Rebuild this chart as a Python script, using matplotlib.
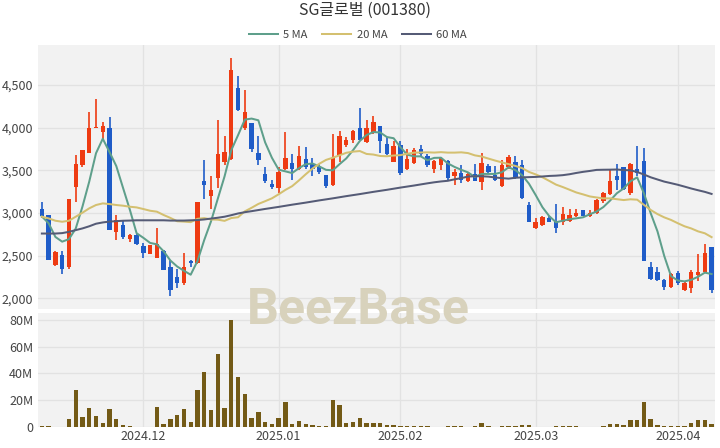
import numpy as np
import pandas as pd
import matplotlib
matplotlib.use("Agg")
import matplotlib.pyplot as plt
from matplotlib.ticker import FuncFormatter

plt.rcParams['font.family'] = ['Noto Sans CJK KR', 'DejaVu Sans']

# trading days (KRX holidays removed)
holidays = ["2024-12-25", "2024-12-31", "2025-01-01", "2025-01-27",
            "2025-01-28", "2025-01-29", "2025-01-30"]
dates = pd.bdate_range("2024-11-11", "2025-04-08")
dates = dates[~dates.isin(pd.to_datetime(holidays))]

opens = [3050, 2975, 2390, 2510, 2370, 3310, 3560, 3700, 3990, 3950,
         4000, 2780, 2860, 2700, 2740, 2610, 2520, 2470, 2560, 2370,
         2250, 2180, 2440, 2410, 3370, 3200, 3410, 3600, 3630, 4460,
         4000, 4050, 3700, 3460, 3340, 3290, 3520, 3590, 3520, 3630,
         3580, 3540, 3440, 3330, 3680, 3800, 3860, 4000, 3830, 3950,
         4020, 3810, 3600, 3800, 3520, 3590, 3750, 3670, 3510, 3560,
         3610, 3430, 3470, 3370, 3460, 3360, 3550, 3440, 3320, 3540,
         3600, 3560, 3090, 2820, 2860, 2940, 2900, 2890, 2910, 2960,
         3030, 2960, 3000, 3140, 3220, 3430, 3540, 3230, 3520, 3610,
         2370, 2310, 2220, 2130, 2300, 2100, 2120, 2280, 2310, 2600]
highs = [3130, 2980, 2550, 2550, 3170, 3680, 3740, 4180, 4340, 4070,
         4130, 2980, 2910, 2760, 2760, 2650, 2630, 2830, 2570, 2450,
         2350, 2530, 2450, 3130, 3620, 3430, 4090, 3900, 4810, 4600,
         4440, 4060, 3900, 3540, 3390, 3540, 3950, 3690, 3780, 3770,
         3650, 3570, 3450, 3930, 3960, 3890, 3970, 4230, 4090, 4140,
         4020, 3890, 3840, 3840, 3750, 3760, 3800, 3690, 3620, 3650,
         3620, 3520, 3560, 3470, 3570, 3700, 3580, 3550, 3620, 3680,
         3670, 3620, 3130, 2940, 2960, 2960, 3110, 3070, 3050, 3050,
         3040, 3030, 3160, 3250, 3510, 3570, 3540, 3590, 3790, 3760,
         2430, 2370, 2230, 2300, 2320, 2210, 2330, 2520, 2640, 2600]
lows = [2940, 2450, 2380, 2290, 2350, 3130, 3540, 3700, 3990, 3870,
        2800, 2680, 2700, 2660, 2620, 2470, 2520, 2470, 2330, 2030,
        2120, 2160, 2370, 2400, 3170, 3050, 3290, 3560, 3620, 4190,
        3970, 3710, 3560, 3350, 3280, 3240, 3500, 3390, 3500, 3520,
        3430, 3460, 3290, 3320, 3600, 3770, 3820, 3860, 3820, 3930,
        3700, 3680, 3600, 3440, 3500, 3580, 3660, 3540, 3470, 3500,
        3390, 3330, 3350, 3360, 3370, 3270, 3460, 3380, 3300, 3520,
        3400, 3170, 2890, 2810, 2850, 2890, 2770, 2860, 2890, 2950,
        2960, 2950, 2990, 3120, 3210, 3270, 3270, 3210, 3430, 2440,
        2220, 2200, 2100, 2120, 2160, 2090, 2060, 2210, 2300, 2060]
closes = [2960, 2450, 2540, 2350, 3170, 3580, 3740, 4000, 4010, 4020,
          2800, 2920, 2720, 2740, 2640, 2530, 2620, 2640, 2330, 2100,
          2180, 2370, 2410, 3130, 3330, 3270, 3690, 3720, 4670, 4210,
          4180, 3750, 3620, 3380, 3310, 3480, 3650, 3520, 3670, 3540,
          3520, 3480, 3320, 3640, 3900, 3860, 3960, 3860, 3990, 4070,
          3840, 3690, 3790, 3470, 3630, 3740, 3690, 3560, 3610, 3640,
          3410, 3480, 3390, 3460, 3370, 3590, 3480, 3390, 3560, 3660,
          3420, 3180, 2900, 2890, 2950, 2900, 2820, 2990, 2980, 3000,
          2960, 3000, 3150, 3240, 3380, 3390, 3280, 3570, 3470, 2440,
          2230, 2220, 2130, 2290, 2180, 2180, 2310, 2310, 2530, 2100]
volumes = [0.5, 1.0, 0.3, 0.3, 6.3, 27.5, 7.5, 14.0, 8.0, 3.3,
           13.3, 5.8, 1.5, 0.5, 0.3, 0.3, 0.2, 15.0, 2.5, 6.3,
           9.0, 13.3, 3.8, 27.8, 41.3, 12.5, 54.5, 14.0, 80.0, 37.5,
           24.3, 7.0, 11.3, 3.8, 2.5, 7.0, 18.8, 2.5, 4.5, 2.5,
           1.3, 0.8, 0.8, 20.3, 16.3, 3.0, 4.0, 7.0, 3.3, 2.8,
           2.8, 1.3, 1.3, 0.8, 0.8, 0.5, 0.5, 0.5, 0.3, 0.3,
           0.5, 0.5, 0.5, 0.3, 0.5, 3.3, 0.5, 0.3, 0.8, 0.8,
           0.8, 1.3, 1.3, 0.3, 0.2, 0.2, 0.8, 0.8, 0.5, 0.5,
           0.3, 0.3, 0.3, 0.8, 2.5, 2.5, 1.3, 5.0, 5.5, 18.3,
           6.3, 1.5, 0.5, 0.5, 0.5, 0.5, 3.0, 5.0, 5.5, 2.5]  # millions

# moving averages before the window is full
ma5_head = [2960, 2880, 2720, 2665]
ma20_head = [2957, 2937, 2910, 2898, 2910, 2957, 3004, 3055, 3094, 3113,
             3105, 3094, 3086, 3074, 3066, 3047, 3027, 3016, 2977]
ma60_head = [2760, 2760, 2760, 2765, 2780, 2800, 2820, 2845, 2875, 2890,
             2900, 2905, 2910, 2912, 2915, 2915, 2915, 2915, 2915, 2912,
             2912, 2912, 2915, 2918, 2925, 2935, 2945, 2957, 2975, 2995,
             3010, 3022, 3035, 3048, 3060, 3072, 3085, 3098, 3110, 3122,
             3135, 3148, 3160, 3172, 3185, 3198, 3210, 3222, 3235, 3248,
             3260, 3272, 3285, 3298, 3310, 3322, 3335, 3348, 3360]

df = pd.DataFrame({"open": opens, "high": highs, "low": lows,
                   "close": closes, "vol": np.array(volumes) * 1e6}, index=dates)

def ma(n, head):
    m = df["close"].rolling(n).mean().values
    m[:len(head)] = head
    return m

ma5 = ma(5, ma5_head)
ma20 = ma(20, ma20_head)
ma60 = ma(60, ma60_head)

x = np.arange(len(df))
up = df["close"].values >= df["open"].values
ccol = np.where(up, "#ee3b12", "#1f5cc8")

fig = plt.figure(figsize=(7.2, 4.48), dpi=100)
ax = fig.add_axes([0.053, 0.310, 0.940, 0.590])
axv = fig.add_axes([0.053, 0.047, 0.940, 0.254])

for a in (ax, axv):
    a.set_facecolor("#f2f2f2")
    for s in a.spines.values():
        s.set_visible(False)
    a.tick_params(length=0, labelsize=9, labelcolor="#444444")
    a.grid(True, color="#e2e2e2", linewidth=0.9)
    a.set_axisbelow(True)
    a.set_xlim(-0.55, 99.5)

# month ticks
months = df.index.to_period("M")
mpos = [i for i in range(1, len(df)) if months[i] != months[i - 1]]
mlab = [df.index[i].strftime("%Y.%m") for i in mpos]

# candles
body_lo = np.minimum(df["open"].values, df["close"].values)
body_h = np.maximum(np.abs(df["close"].values - df["open"].values), 12)
ax.vlines(x, df["low"].values, df["high"].values, color=ccol, linewidth=1.2, zorder=2)
ax.bar(x, body_h, bottom=body_lo, width=0.65, color=ccol, zorder=3)

ax.plot(x, ma5, color="#5e9f8b", linewidth=1.45, label="5 MA", zorder=4)
ax.plot(x, ma20, color="#d4c070", linewidth=1.45, label="20 MA", zorder=4)
ax.plot(x, ma60, color="#555b76", linewidth=1.45, label="60 MA", zorder=4)

ax.set_ylim(1875, 4970)
ax.set_yticks([2000, 2500, 3000, 3500, 4000, 4500])
ax.yaxis.set_major_formatter(FuncFormatter(lambda v, p: f"{int(v):,}"))
ax.set_xticks(mpos)
ax.set_xticklabels([])

axv.bar(x, df["vol"].values, width=0.65, color="#735a16", zorder=3)
axv.set_ylim(0, 85e6)
axv.set_yticks([0, 20e6, 40e6, 60e6, 80e6])
axv.yaxis.set_major_formatter(FuncFormatter(lambda v, p: "0" if v == 0 else f"{int(v/1e6)}M"))
axv.set_xticks(mpos)
axv.set_xticklabels(mlab)
axv.tick_params(axis="x", pad=2)

fig.suptitle("SG글로벌 (001380)", x=0.507, y=0.997, fontsize=11.5, color="#333333")
fig.legend(loc="upper center", bbox_to_anchor=(0.497, 0.955), ncol=3, frameon=False,
           fontsize=8, handlelength=2.6, columnspacing=1.3, handletextpad=0.5,
           labelcolor="#444444")

fig.text(0.497, 0.307, "BeezBase", ha="center", va="center", fontsize=36,
         fontweight="bold", family="Roboto", color="#d8d2bc", zorder=10)

fig.savefig("out.png", dpi=100)
